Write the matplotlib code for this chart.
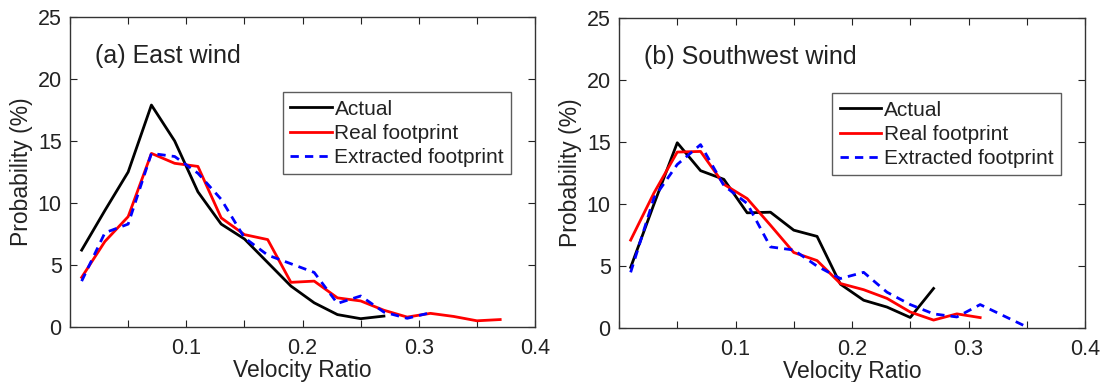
import numpy as np
import matplotlib
import matplotlib.pyplot as plt

matplotlib.use('Agg')

plt.rcParams['font.family'] = ['Liberation Sans', 'DejaVu Sans']

# Bin centres of the velocity ratio histogram
x_east_actual = [0.01, 0.03, 0.05, 0.07, 0.09, 0.11, 0.13, 0.15, 0.17, 0.19, 0.21, 0.23, 0.25, 0.27]
y_east_actual = [6.2, 9.4, 12.5, 17.9, 15.0, 10.9, 8.3, 7.1, 5.2, 3.3, 1.95, 1.0, 0.67, 0.88]

x_east_real = [0.01, 0.03, 0.05, 0.07, 0.09, 0.11, 0.13, 0.15, 0.17, 0.19, 0.21, 0.23, 0.25,
               0.27, 0.29, 0.31, 0.33, 0.35, 0.37]
y_east_real = [4.0, 6.9, 8.9, 14.0, 13.2, 12.95, 8.8, 7.45, 7.05, 3.6, 3.7, 2.35, 2.1,
               1.35, 0.8, 1.1, 0.85, 0.5, 0.6]

x_east_extr = [0.01, 0.03, 0.05, 0.07, 0.09, 0.11, 0.13, 0.15, 0.17, 0.19, 0.21, 0.23, 0.25,
               0.27, 0.29, 0.31]
y_east_extr = [3.7, 7.6, 8.3, 14.0, 13.75, 12.4, 10.3, 7.2, 5.8, 5.1, 4.4, 1.9, 2.5,
               1.2, 0.7, 1.15]

x_sw_actual = [0.01, 0.03, 0.05, 0.07, 0.09, 0.11, 0.13, 0.15, 0.17, 0.19, 0.21, 0.23, 0.25, 0.27]
y_sw_actual = [4.9, 10.0, 14.95, 12.7, 12.0, 9.3, 9.35, 7.9, 7.4, 3.55, 2.25, 1.7, 0.86, 3.2]

x_sw_real = [0.01, 0.03, 0.05, 0.07, 0.09, 0.11, 0.13, 0.15, 0.17, 0.19, 0.21, 0.23, 0.25,
             0.27, 0.29, 0.31]
y_sw_real = [7.1, 10.9, 14.2, 14.25, 11.6, 10.45, 8.3, 6.1, 5.45, 3.6, 3.1, 2.4, 1.3,
             0.65, 1.15, 0.85]

x_sw_extr = [0.01, 0.03, 0.05, 0.07, 0.09, 0.11, 0.13, 0.15, 0.17, 0.19, 0.21, 0.23, 0.25,
             0.27, 0.29, 0.31, 0.33, 0.35]
y_sw_extr = [4.5, 10.5, 13.2, 14.8, 11.5, 10.05, 6.55, 6.3, 5.0, 4.0, 4.5, 2.9, 1.9,
             1.15, 0.9, 1.9, 1.0, 0.1]

series_labels = ['Actual', 'Real footprint', 'Extracted footprint']
panel_titles = ['(a) East wind', '(b) Southwest wind']
x_tick_values = np.arange(0, 0.401, 0.05)
x_tick_labels = ['', '', '0.1', '', '0.2', '', '0.3', '', '0.4']
y_tick_values = [0, 5, 10, 15, 20, 25]

fig = plt.figure(figsize=(11.03, 3.82), dpi=100)
ax1 = fig.add_axes([0.0635, 0.144, 0.4216, 0.8115])
ax2 = fig.add_axes([0.5612, 0.141, 0.4225, 0.8115])

panels = [
    (ax1, x_east_actual, y_east_actual, x_east_real, y_east_real, x_east_extr, y_east_extr),
    (ax2, x_sw_actual, y_sw_actual, x_sw_real, y_sw_real, x_sw_extr, y_sw_extr),
]

text_color = '#222222'
for i, (ax, xa, ya, xr, yr, xe, ye) in enumerate(panels):
    ax.plot(xa, ya, color='black', lw=2.0, label=series_labels[0])
    ax.plot(xr, yr, color='#ff0000', lw=2.0, label=series_labels[1])
    ax.plot(xe, ye, color='#0000ff', lw=2.0, ls=(0, (3, 2.2)), label=series_labels[2])

    ax.set_xlim(0, 0.4)
    ax.set_ylim(0, 25)
    ax.set_xticks(x_tick_values)
    ax.set_xticklabels(x_tick_labels)
    ax.set_yticks(y_tick_values)
    ax.tick_params(direction='in', top=True, right=True, length=5, width=0.8,
                   labelsize=15.5, colors=text_color, pad=6)
    ax.tick_params(axis='x', pad=8)
    for sp in ax.spines.values():
        sp.set_color('#333333')
        sp.set_linewidth(1.0)

    ax.set_xlabel('Velocity Ratio', fontsize=16.5, color=text_color, labelpad=0)
    ax.set_ylabel('Probability (%)', fontsize=16.5, color=text_color, labelpad=3)
    ax.text(0.054, 0.852, panel_titles[i], transform=ax.transAxes, fontsize=18,
            color=text_color, va='baseline', ha='left')

    leg = ax.legend(loc='upper left', bbox_to_anchor=(0.458, 0.757), fontsize=15,
                    frameon=True, fancybox=False, handlelength=2.0, handletextpad=0.12,
                    borderpad=0.35, labelspacing=0.25, borderaxespad=0)
    leg.get_frame().set_edgecolor('#333333')
    leg.get_frame().set_linewidth(1.0)
    for t in leg.get_texts():
        t.set_color(text_color)

fig.savefig('out.png', dpi=100)
